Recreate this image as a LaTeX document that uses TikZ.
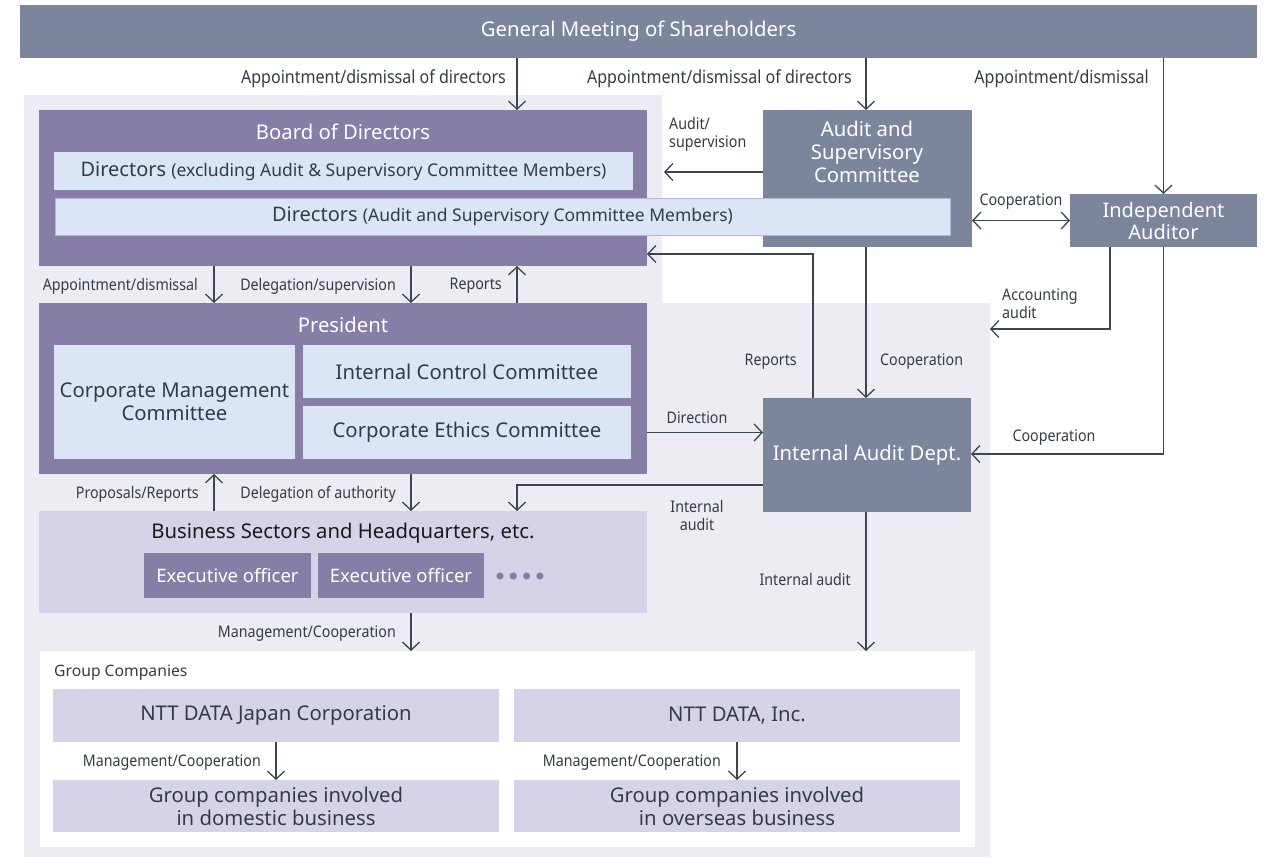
\documentclass[tikz,border=0pt]{standalone}
\usepackage{fontspec}
\setmainfont{Noto Sans}
\newfontfamily\labfont[FakeStretch=0.89]{Noto Sans}
\usepackage{tikz}
\definecolor{slate}{HTML}{7B869C}
\definecolor{purp}{HTML}{877EA7}
\definecolor{lblue}{HTML}{DAE6F6}
\definecolor{lav}{HTML}{D6D3E8}
\definecolor{bgc}{HTML}{EDECF3}
\definecolor{txt}{HTML}{333C46}
\definecolor{arrc}{HTML}{3B4652}
\definecolor{edge}{HTML}{B9B3D6}
\usetikzlibrary{positioning,arrows.meta}

\begin{document}
\begin{tikzpicture}[
  x=1pt,y=-1pt,
  font=\fontsize{20.3}{23}\selectfont,
  box/.style={inner sep=0pt,outer sep=0pt,align=center},
  gbox/.style={box,fill=slate,text=white},
  pbox/.style={box,fill=purp,text=white},
  lbox/.style={box,fill=lblue,text=txt},
  sbox/.style={box,fill=lav,text=txt},
  lab/.style={text=txt,font=\labfont\fontsize{16}{18}\selectfont,inner sep=0pt,align=center},
  toplab/.style={lab,font=\labfont\fontsize{18}{20}\selectfont},
  arr/.style={draw=arrc,line width=1.3pt,-{Straight Barb[length=8pt,width=17pt]}},
  arr2/.style={draw=arrc,line width=1.3pt,{Straight Barb[length=8pt,width=17pt]}-{Straight Barb[length=8pt,width=17pt]}}
]
\useasboundingbox (0,0) rectangle (1277,857);
\fill[bgc] (24,95) -- (662,95) -- (662,303) -- (990,303) -- (990,857) -- (24,857) -- cycle;

\node[gbox,minimum width=1237pt,minimum height=53pt] (gms) at (638.5,31.5) {General Meeting of Shareholders};

\node[pbox,minimum width=608pt,minimum height=156pt] (board) at (343,188) {};
\node[text=white] (boardt) at (343,132) {Board of Directors};
\node[gbox,minimum width=209pt,minimum height=137pt] (asc) at (867.5,178.5) {};
\node[text=white,align=center,font=\fontsize{20.3}{22.7}\selectfont] (asct) at (867,152) {Audit and\\Supervisory\\Committee};
\node[lbox,minimum width=579pt,minimum height=38pt] (dirx) at (343.5,171)
  {\fontsize{20}{23}\selectfont Directors {\fontsize{17.5}{20}\selectfont(excluding Audit \& Supervisory Committee Members)}};
\node[lbox,draw=edge,line width=1pt,minimum width=895pt,minimum height=37pt] (dira) at (502.5,216.5)
  {\fontsize{20}{23}\selectfont Directors {\fontsize{17.5}{20}\selectfont(Audit and Supervisory Committee Members)}};
\node[gbox,minimum width=187pt,minimum height=53pt,font=\fontsize{20}{22}\selectfont] (ia) at (1163.5,220.5) {Independent\\Auditor};

\node[pbox,minimum width=608pt,minimum height=171pt] (pres) at (343,388.5) {};
\node[text=white] (prest) at (343,325) {President};
\node[lbox,minimum width=241pt,minimum height=114pt] (cmc) at (174.5,402) {Corporate Management\\Committee};
\node[lbox,minimum width=328pt,minimum height=53pt] (icc) at (467,371.5) {Internal Control Committee};
\node[lbox,minimum width=328pt,minimum height=53pt] (cec) at (467,432.5) {Corporate Ethics Committee};
\node[gbox,minimum width=208pt,minimum height=114pt] (iad) at (867,455) {Internal Audit Dept.};

\node[sbox,minimum width=608pt,minimum height=102pt] (bsh) at (343,562) {};
\node[text=black!90] (bsht) at (343,533) {Business Sectors and Headquarters, etc.};
\node[pbox,minimum width=167pt,minimum height=45pt,font=\fontsize{18.5}{21}\selectfont] (eo1) at (227.5,575.5) {Executive officer};
\node[pbox,minimum width=166pt,minimum height=45pt,font=\fontsize{18.5}{21}\selectfont] (eo2) at (401,575.5) {Executive officer};
\foreach \i in {0,...,3}
  \fill[purp] (500+13.3*\i,576) circle[radius=3.6pt];

\node[box,fill=white,minimum width=935pt,minimum height=196pt] (grp) at (507.5,749) {};
\node[text=txt,anchor=west,inner sep=0pt,font=\fontsize{15.7}{19}\selectfont] (grpt) at (54,673) {Group Companies};
\node[sbox,minimum width=446pt,minimum height=53pt] (ntj) at (276,715.5) {NTT DATA Japan Corporation};
\node[sbox,minimum width=446pt,minimum height=53pt] (nti) at (737,715.5) {NTT DATA, Inc.};
\node[sbox,minimum width=446pt,minimum height=52pt] (gcd) at (276,806) {Group companies involved\\in domestic business};
\node[sbox,minimum width=446pt,minimum height=52pt] (gco) at (737,806) {Group companies involved\\in overseas business};

\coordinate (xa) at (517,0);
\coordinate (x1) at (214,0);
\coordinate (x2) at (411,0);
\coordinate (xc) at (866,0);
\coordinate (xr) at (813,254);
\coordinate (xd) at (1110,0);
\coordinate (acc) at (990,329);
\coordinate (as) at (664,172);
\coordinate (ya) at (0,485);
\coordinate (yc) at (0,454);

\draw[arr] (gms.south -| xa) -- (board.north -| xa);
\draw[arr] (gms.south -| xc) -- (asc.north -| xc);
\draw[arr] (gms.south -| ia.north) -- (ia.north);
\draw[arr] (asc.west |- as) -- (as);
\draw[arr2] (asc.east |- ia.west) -- (ia.west);
\draw[arr] (ia.south -| xd) |- (acc);
\draw[arr] (ia.south) |- (iad.east |- yc);
\draw[arr] (iad.north -| xr) |- (board.east |- xr);
\draw[arr] (asc.south -| xc) -- (iad.north -| xc);
\draw[arr] (pres.east |- cec.east) -- (iad.west |- cec.east);
\draw[arr] (iad.west |- ya) -| (bsh.north -| xa);
\draw[arr] (board.south -| x1) -- (pres.north -| x1);
\draw[arr] (board.south -| x2) -- (pres.north -| x2);
\draw[arr] (pres.north -| xa) -- (board.south -| xa);
\draw[arr] (bsh.north -| x1) -- (pres.south -| x1);
\draw[arr] (pres.south -| x2) -- (bsh.north -| x2);
\draw[arr] (bsh.south -| x2) -- (grp.north -| x2);
\draw[arr] (iad.south -| xc) -- (grp.north -| xc);
\draw[arr] (ntj.south) -- (gcd.north);
\draw[arr] (nti.south) -- (gco.north);

\node[toplab,anchor=east] (l1) at (506,79) {Appointment/dismissal of directors};
\node[toplab,anchor=east] (l2) at (852,79) {Appointment/dismissal of directors};
\node[toplab,anchor=east] (l3) at (1149,79) {Appointment/dismissal};
\node[lab,anchor=west,align=left] (l4) at (669,134) {Audit/\\supervision};
\node[lab] (l5) at (1021,202) {Cooperation};
\node[lab,anchor=east] (l6) at (198,286) {Appointment/dismissal};
\node[lab,anchor=east] (l7) at (396,286) {Delegation/supervision};
\node[lab,anchor=east] (l8) at (502,286) {Reports};
\node[lab,anchor=west,align=left] (l9) at (1002,304) {Accounting\\audit};
\node[lab,anchor=east] (l10) at (797,362) {Reports};
\node[lab,anchor=west] (l11) at (880,362) {Cooperation};
\node[lab] (l12) at (697,418) {Direction};
\node[lab] (l13) at (1054,438) {Cooperation};
\node[lab] (l14) at (697,515) {Internal\\audit};
\node[lab,anchor=east] (l15) at (199,494) {Proposals/Reports};
\node[lab,anchor=east] (l16) at (396,494) {Delegation of authority};
\node[lab,anchor=east] (l17) at (851,579) {Internal audit};
\node[lab,anchor=east] (l18) at (396,634) {Management/Cooperation};
\node[lab,anchor=east] (l19) at (261,763) {Management/Cooperation};
\node[lab,anchor=east] (l20) at (721,763) {Management/Cooperation};
\end{tikzpicture}
\end{document}
